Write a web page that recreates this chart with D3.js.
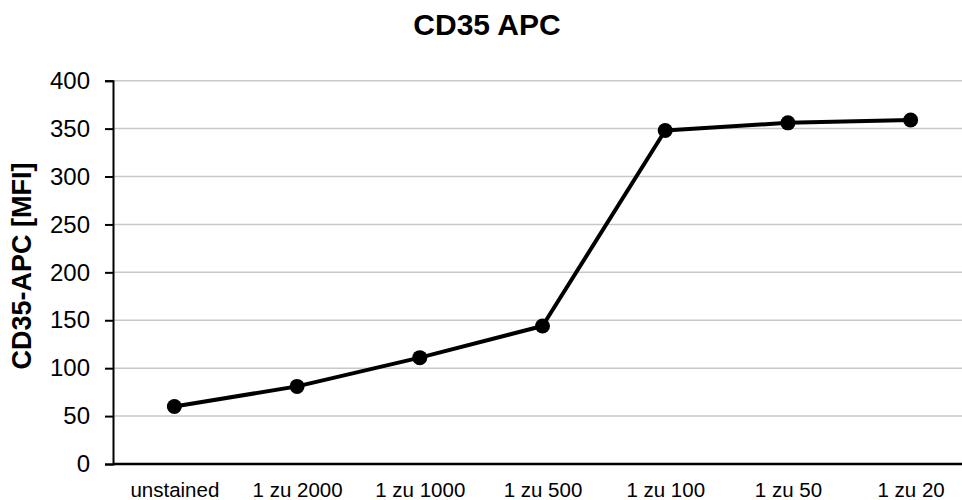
<!DOCTYPE html>
<html>
<head>
<meta charset="utf-8">
<script src="https://cdn.jsdelivr.net/npm/d3@7"></script>
<style>
  html, body { margin: 0; padding: 0; background: #fff; }
  svg { display: block; font-family: "Liberation Sans", Arial, sans-serif; }
</style>
</head>
<body>
<svg id="chart" width="962" height="500"></svg>
<script>
const categories = ["unstained", "1 zu 2000", "1 zu 1000", "1 zu 500", "1 zu 100", "1 zu 50", "1 zu 20"];
const values = [60, 81, 111, 144, 348, 356, 359];
const yTicks = [0, 50, 100, 150, 200, 250, 300, 350, 400];
const chartTitle = "CD35 APC";
const yTitle = "CD35-APC [MFI]";

(function () {
const svg = d3.select("#chart");
const mLeft = 113, mRight = 972, mTop = 80.7, mBottom = 464;

const x = d3.scalePoint().domain(categories).range([mLeft, mRight]).padding(0.5);
const y = d3.scaleLinear().domain([0, 400]).range([mBottom, mTop]);

// gridlines
svg.append("g").selectAll("line").data(yTicks.filter(d => d > 0)).join("line")
  .attr("x1", mLeft).attr("x2", mRight)
  .attr("y1", d => y(d)).attr("y2", d => y(d))
  .attr("stroke", "#c8c8c8").attr("stroke-width", 1.5);

// y axis
const yAxis = svg.append("g").attr("transform", `translate(${mLeft},0)`)
  .call(d3.axisLeft(y).tickValues(yTicks).tickSize(8).tickPadding(15));
yAxis.select(".domain").attr("stroke", "#000").attr("stroke-width", 2);
yAxis.selectAll(".tick line").attr("stroke", "#000").attr("stroke-width", 2);
yAxis.selectAll(".tick text").attr("font-size", 24).attr("fill", "#000")
  .attr("font-family", "Liberation Sans, Arial, sans-serif");

// x axis
const xAxis = svg.append("g").attr("transform", `translate(0,${mBottom})`)
  .call(d3.axisBottom(x).tickSize(0).tickPadding(18));
xAxis.select(".domain").attr("stroke", "#000").attr("stroke-width", 2.5)
  .attr("d", `M${mLeft},0H${mRight}`);
xAxis.selectAll(".tick text").attr("font-size", 20.5).attr("fill", "#000")
  .attr("font-family", "Liberation Sans, Arial, sans-serif");

// line
const line = d3.line().x((d, i) => x(categories[i])).y(d => y(d));
svg.append("path").datum(values)
  .attr("d", line).attr("fill", "none")
  .attr("stroke", "#000").attr("stroke-width", 4).attr("stroke-linejoin", "round");

svg.append("g").selectAll("circle").data(values).join("circle")
  .attr("cx", (d, i) => x(categories[i])).attr("cy", d => y(d))
  .attr("r", 7.5).attr("fill", "#000");

// title
svg.append("text").attr("x", 487).attr("y", 35)
  .attr("text-anchor", "middle").attr("font-size", 30).attr("font-weight", "bold")
  .text(chartTitle);

// y title
svg.append("text").attr("transform", "translate(31,266) rotate(-90)")
  .attr("text-anchor", "middle").attr("font-size", 27).attr("font-weight", "bold")
  .text(yTitle);
})();
</script>
</body>
</html>
